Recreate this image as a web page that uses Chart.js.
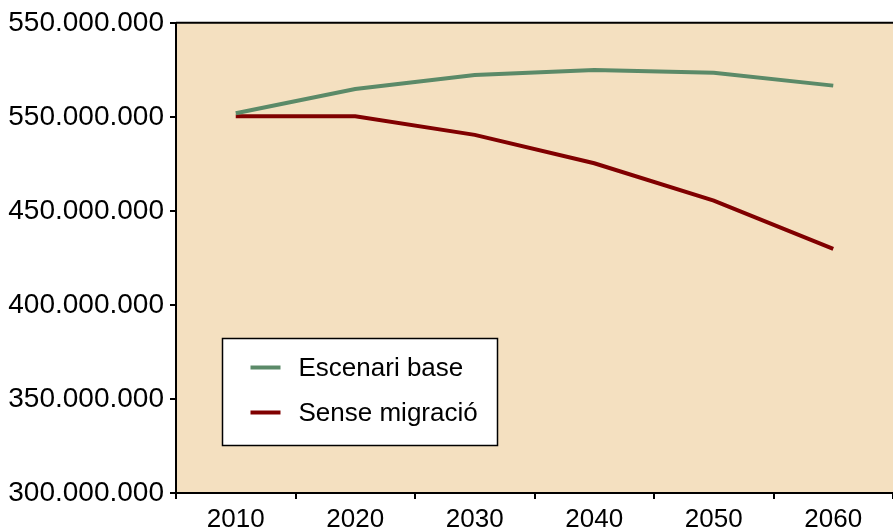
<!DOCTYPE html>
<html>
<head>
<meta charset="utf-8">
<script src="https://cdn.jsdelivr.net/npm/chart.js@4.4.0/dist/chart.umd.min.js"></script>
<style>
  body { margin: 0; background: #fff; }
  #wrap { width: 893px; height: 528px; }
</style>
</head>
<body>
<div id="wrap"><canvas id="lineChart" width="893" height="528"></canvas></div>
<script>
// dades (milions d'habitants)
var anys = ['2010', '2020', '2030', '2040', '2050', '2060'];
var escenariBase = [501.9, 514.8, 522.2, 524.9, 523.5, 516.6];
var senseMigracio = [500.3, 500.3, 490.4, 475.3, 455.5, 429.8];
var etiquetesY = ['300.000.000', '350.000.000', '400.000.000', '450.000.000', '550.000.000', '550.000.000'];

var verd = '#5b8a68';
var granat = '#800000';
var fons = '#f4e0c0';
var font = 'Liberation Sans, Arial, sans-serif';

// fons de l'area i vora superior
var fonsPlugin = {
    id: 'fons',
    beforeDraw: function (chart) {
        var a = chart.chartArea, c = chart.ctx;
        c.save();
        c.fillStyle = fons;
        c.fillRect(a.left, a.top, a.right - a.left, a.bottom - a.top);
        c.strokeStyle = '#000';
        c.lineWidth = 2;
        c.beginPath();
        c.moveTo(a.left, a.top);
        c.lineTo(a.right, a.top);
        c.stroke();
        c.restore();
    }
};

// llegenda dins del grafic
var llegendaPlugin = {
    id: 'llegenda',
    afterDatasetsDraw: function (chart) {
        var a = chart.chartArea, c = chart.ctx;
        var x = a.left + 46.5, y = a.bottom - 154.5;
        c.save();
        c.fillStyle = '#fff';
        c.fillRect(x, y, 275, 107);
        c.strokeStyle = '#000';
        c.lineWidth = 1.5;
        c.strokeRect(x, y, 275, 107);
        c.font = '26px ' + font;
        c.textBaseline = 'middle';
        chart.data.datasets.forEach(function (ds, i) {
            var ly = y + 29 + i * 45;
            c.strokeStyle = ds.borderColor;
            c.lineWidth = 4;
            c.beginPath();
            c.moveTo(x + 28, ly);
            c.lineTo(x + 58, ly);
            c.stroke();
            c.fillStyle = '#000';
            c.fillText(ds.label, x + 76, ly + 1);
        });
        c.restore();
    }
};

var ctx = document.getElementById('lineChart').getContext('2d');
var lineChart = new Chart(ctx, {
    type: 'line',
    data: {
        labels: anys,
        datasets: [{
            label: 'Escenari base',
            data: escenariBase,
            borderColor: verd,
            borderWidth: 4,
            pointRadius: 0,
            tension: 0
        }, {
            label: 'Sense migració',
            data: senseMigracio,
            borderColor: granat,
            borderWidth: 4,
            pointRadius: 0,
            tension: 0
        }]
    },
    options: {
        responsive: false,
        animation: false,
        layout: { padding: { top: 22, right: 0, left: 0, bottom: 0 } },
        plugins: {
            legend: { display: false },
            tooltip: { enabled: false }
        },
        scales: {
            x: {
                offset: true,
                grid: { offset: true, drawOnChartArea: false, color: '#000', tickLength: 6, lineWidth: 2 },
                border: { color: '#000', width: 2 },
                ticks: { color: '#000', font: { family: font, size: 26 }, padding: 5, maxRotation: 0 },
                afterFit: function (s) { s.height = 35; }
            },
            y: {
                min: 300,
                max: 550,
                grid: { drawOnChartArea: false, color: '#000', tickLength: 6, lineWidth: 2 },
                border: { color: '#000', width: 2 },
                ticks: {
                    stepSize: 50,
                    color: '#000',
                    font: { family: font, size: 28 },
                    padding: 6,
                    callback: function (v, i) { return etiquetesY[i]; }
                },
                afterFit: function (s) { s.width = 176; }
            }
        }
    },
    plugins: [fonsPlugin, llegendaPlugin]
});
</script>
</body>
</html>
